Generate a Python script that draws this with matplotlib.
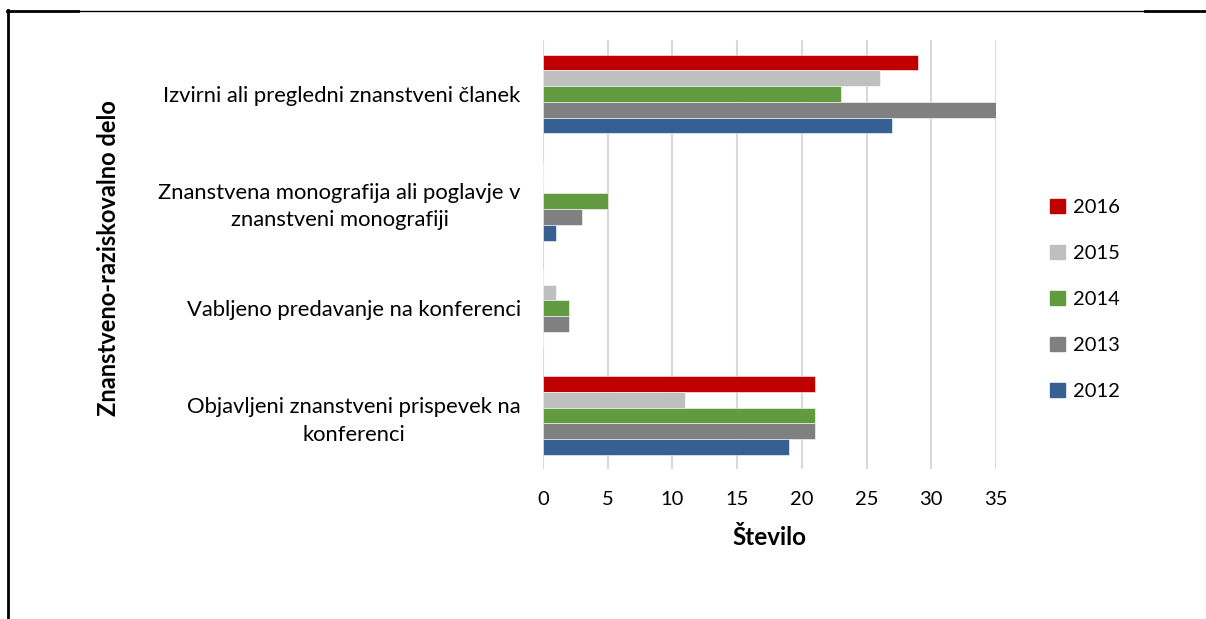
import matplotlib.pyplot as plt
from matplotlib.lines import Line2D
import numpy as np

plt.rcParams['font.family'] = ['Lato', 'DejaVu Sans']

# Categories from top to bottom
categories = [
    'Izvirni ali pregledni znanstveni članek',
    'Znanstvena monografija ali poglavje v\nznanstveni monografiji',
    'Vabljeno predavanje na konferenci',
    'Objavljeni znanstveni prispevek na\nkonferenci',
]
years = ['2016', '2015', '2014', '2013', '2012']
vals_2016 = [29, 0, 0, 21]
vals_2015 = [26, 0, 1, 11]
vals_2014 = [23, 5, 2, 21]
vals_2013 = [35, 3, 2, 21]
vals_2012 = [27, 1, 0, 19]
series = [vals_2016, vals_2015, vals_2014, vals_2013, vals_2012]
colors = ['#C00000', '#BFBFBF', '#629B3F', '#808080', '#366092']

fig = plt.figure(figsize=(12.06, 6.19), dpi=100)
ax = fig.add_axes([0.4502, 0.2423, 0.8259 - 0.4502, 0.9346 - 0.2423])

n_cat = len(categories)
centers = np.arange(n_cat)[::-1].astype(float)  # top category highest
h = 0.147
for i, (vals, col, yr) in enumerate(zip(series, colors, years)):
    offs = (2 - i) * h
    ax.barh(centers + offs, vals, height=h, color=col, label=yr,
            edgecolor='white', linewidth=0.4, zorder=3)

ax.set_xlim(0, 35)
ax.set_ylim(-0.5, n_cat - 0.5)
ax.set_xticks(range(0, 36, 5))
ax.set_yticks(centers)
ax.set_yticklabels(categories, multialignment='center', linespacing=1.45)
ax.tick_params(axis='both', length=0, colors='black')
ax.tick_params(axis='y', pad=16, labelsize=15.8)
ax.tick_params(axis='x', pad=16, labelsize=14.5)
ax.grid(axis='x', color='#D9D9D9', linewidth=1.5, zorder=0)
for s in ax.spines.values():
    s.set_visible(False)

ax.set_xlabel('Število', fontsize=17.5, fontweight='bold', labelpad=13)
fig.text(0.0896, 0.583, 'Znanstveno-raziskovalno delo', rotation=90,
         ha='center', va='center', fontsize=17, fontweight='bold')

handles = [plt.Rectangle((0, 0), 1, 1, color=c) for c in colors]
fig.legend(handles, years, loc='center left', bbox_to_anchor=(0.856, 0.516),
           frameon=False, fontsize=14.5, handlelength=0.7, handleheight=0.7,
           handletextpad=0.4, labelspacing=1.43)

# document table border
fig.add_artist(Line2D([7 / 1206, 78 / 1206], [1 - 11 / 619] * 2, color='black', linewidth=2))
fig.add_artist(Line2D([78 / 1206, 1145 / 1206], [1 - 10.5 / 619] * 2, color='black', linewidth=1))
fig.add_artist(Line2D([1145 / 1206, 1.0], [1 - 11 / 619] * 2, color='black', linewidth=2))
fig.add_artist(Line2D([8 / 1206] * 2, [0, 1 - 10 / 619], color='black', linewidth=2))

fig.savefig('out.png', dpi=100)
